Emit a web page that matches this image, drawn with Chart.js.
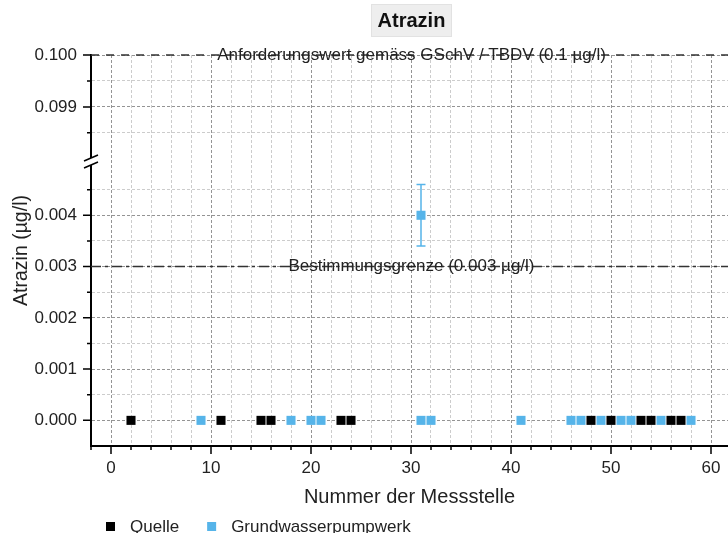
<!DOCTYPE html>
<html>
<head>
<meta charset="utf-8">
<title>Atrazin</title>
<script src="https://cdn.jsdelivr.net/npm/chart.js@4.4.0/dist/chart.umd.min.js"></script>
<style>
  html, body { margin: 0; padding: 0; background: #fff; }
  #wrap { width: 728px; height: 533px; position: relative; }
</style>
</head>
<body>
<div id="wrap"><canvas id="chart"></canvas></div>
<script>
// Messstellen (x) and measured Atrazin values (µg/l)
const quelleX = [2, 11, 15, 16, 23, 24, 48, 50, 53, 54, 56, 57];
const quelleY = [0, 0, 0, 0, 0, 0, 0, 0, 0, 0, 0, 0];

const gwX   = [9, 18, 20, 21, 31, 31, 32, 41, 46, 47, 49, 51, 52, 55, 58];
const gwY   = [0, 0, 0, 0, 0.004, 0, 0, 0, 0, 0, 0, 0, 0, 0, 0];
const gwErr = [0, 0, 0, 0, 0.0006, 0, 0, 0, 0, 0, 0, 0, 0, 0, 0];

const seriesLabels = ['Quelle', 'Grundwasserpumpwerk'];
const seriesColors = ['#000000', '#56B4E9'];

// horizontal limit lines
const limitValues = [0.1, 0.003];
const limitLabels = ['Anforderungswert gemäss GSchV / TBDV (0.1 µg/l)', 'Bestimmungsgrenze (0.003 µg/l)'];
const limitAxes   = ['yTop', 'y'];
const limitDash   = [[8, 7], [10, 4, 3, 4]];

// axis ranges (lower / upper part of the broken y axis)
const xRange    = [-2, 61.7];
const yLowRange = [-0.0005, 0.005];
const yTopRange = [0.0979, 0.1];

const FONT = "'Liberation Sans', Arial, Helvetica, sans-serif";
Chart.defaults.font.family = FONT;
Chart.defaults.color = '#222';

const MAJOR = 'rgba(0,0,0,0.42)';
const MINOR = 'rgba(0,0,0,0.2)';
const CLEAR = 'rgba(0,0,0,0)';

const isMajorY = v => Math.abs(v * 1000 - Math.round(v * 1000)) < 1e-6;
const isMajorX = v => Math.abs(v % 10) < 1e-9;

const hideLow = v => v < 0 || v > 0.0046;
const hideTop = v => v < 0.0982;

function yScale(range, hidden, weight, labelOk) {
  return {
    type: 'linear',
    position: 'left',
    stack: 'ybreak',
    stackWeight: weight,
    min: range[0],
    max: range[1],
    afterFit: s => { s.width = 91; },
    border: { display: true, color: '#000', width: 2, dash: [3, 2] },
    grid: {
      color: c => hidden(c.tick.value) ? CLEAR : (isMajorY(c.tick.value) ? MAJOR : MINOR),
      lineWidth: 1,
      drawTicks: true,
      tickLength: 8,
      tickColor: CLEAR,
    },
    ticks: {
      stepSize: 0.0005,
      includeBounds: false,
      autoSkip: false,
      padding: 6,
      color: '#222',
      font: { size: 17 },
      callback: v => (isMajorY(v) && !hidden(v) && labelOk(v)) ? v.toFixed(3) : '',
    },
  };
}

const decor = {
  id: 'decor',
  beforeDatasetsDraw(chart) {
    // error bars of the Grundwasserpumpwerk series
    const { ctx, scales } = chart;
    ctx.save();
    ctx.strokeStyle = seriesColors[1];
    ctx.lineWidth = 1.5;
    gwX.forEach((xv, i) => {
      if (!gwErr[i]) return;
      const px = scales.x.getPixelForValue(xv);
      const top = scales.y.getPixelForValue(gwY[i] + gwErr[i]);
      const bot = scales.y.getPixelForValue(gwY[i] - gwErr[i]);
      ctx.beginPath();
      ctx.moveTo(px, top); ctx.lineTo(px, bot);
      ctx.moveTo(px - 4.5, top); ctx.lineTo(px + 4.5, top);
      ctx.moveTo(px - 4.5, bot); ctx.lineTo(px + 4.5, bot);
      ctx.stroke();
    });
    ctx.restore();
  },
  afterDraw(chart) {
    const { ctx, chartArea: a, scales } = chart;
    ctx.save();

    // limit lines with their labels
    const midX = (a.left + a.right) / 2 + 2;
    limitValues.forEach((v, i) => {
      const py = scales[limitAxes[i]].getPixelForValue(v);
      ctx.strokeStyle = '#333';
      ctx.lineWidth = 1.5;
      ctx.setLineDash(limitDash[i]);
      ctx.beginPath();
      ctx.moveTo(a.left, py); ctx.lineTo(a.right, py);
      ctx.stroke();
      ctx.setLineDash([]);
      ctx.fillStyle = '#222';
      ctx.font = '17px ' + FONT;
      ctx.textAlign = 'center';
      ctx.textBaseline = 'middle';
      ctx.fillText(limitLabels[i], midX, py);
    });

    // tick marks: long for labelled values, short otherwise
    ctx.strokeStyle = '#000';
    ctx.lineWidth = 1.5;
    ctx.beginPath();
    scales.x.ticks.forEach(t => {
      const px = scales.x.getPixelForValue(t.value);
      const len = isMajorX(t.value) ? 8 : 4;
      ctx.moveTo(px, a.bottom); ctx.lineTo(px, a.bottom + len);
    });
    [['y', hideLow], ['yTop', hideTop]].forEach(([id, hidden]) => {
      scales[id].ticks.forEach(t => {
        if (hidden(t.value)) return;
        const py = scales[id].getPixelForValue(t.value);
        const len = isMajorY(t.value) ? 8 : 4;
        ctx.moveTo(a.left, py); ctx.lineTo(a.left - len, py);
      });
    });
    ctx.stroke();

    // axis break marks
    const by = scales.y.top - 2;
    ctx.fillStyle = '#fff';
    ctx.beginPath();
    ctx.moveTo(a.left - 7, by + 6);
    ctx.lineTo(a.left + 7, by);
    ctx.lineTo(a.left + 7, by - 7);
    ctx.lineTo(a.left - 7, by - 1);
    ctx.closePath();
    ctx.fill();
    ctx.lineWidth = 1.5;
    ctx.beginPath();
    ctx.moveTo(a.left - 7, by + 6); ctx.lineTo(a.left + 7, by);
    ctx.moveTo(a.left - 7, by - 1); ctx.lineTo(a.left + 7, by - 7);
    ctx.stroke();

    // y axis title
    ctx.fillStyle = '#222';
    ctx.font = '19.5px ' + FONT;
    ctx.textAlign = 'center';
    ctx.textBaseline = 'middle';
    ctx.translate(22, (a.top + a.bottom) / 2);
    ctx.rotate(-Math.PI / 2);
    ctx.fillText('Atrazin (µg/l)', 0, 0);
    ctx.setTransform(1, 0, 0, 1, 0, 0);

    // boxed chart title
    ctx.fillStyle = '#eeeeee';
    ctx.fillRect(371, 4, 81, 33);
    ctx.strokeStyle = '#e2e2e2';
    ctx.lineWidth = 1;
    ctx.strokeRect(371.5, 4.5, 80, 32);
    ctx.fillStyle = '#111';
    ctx.font = 'bold 20px ' + FONT;
    ctx.fillText('Atrazin', 411.5, 21);

    // legend
    let lx = 106;
    ctx.font = '17px ' + FONT;
    ctx.textAlign = 'left';
    chart.data.datasets.forEach(ds => {
      ctx.fillStyle = ds.backgroundColor;
      ctx.fillRect(lx, 522, 9, 9);
      ctx.fillStyle = '#222';
      ctx.fillText(ds.label, lx + 24, 527);
      lx += 24 + ctx.measureText(ds.label).width + 28;
    });

    ctx.restore();
  },
};

const toPoints = (xs, ys) => xs.map((x, i) => ({ x, y: ys[i] }));

new Chart(document.getElementById('chart'), {
  type: 'scatter',
  data: {
    datasets: [
      {
        label: seriesLabels[0],
        data: toPoints(quelleX, quelleY),
        yAxisID: 'y',
        backgroundColor: seriesColors[0],
        borderColor: seriesColors[0],
        borderWidth: 0,
        pointStyle: 'rect',
        pointRadius: 6.4,
        pointHoverRadius: 6.4,
      },
      {
        label: seriesLabels[1],
        data: toPoints(gwX, gwY),
        yAxisID: 'y',
        backgroundColor: seriesColors[1],
        borderColor: seriesColors[1],
        borderWidth: 0,
        pointStyle: 'rect',
        pointRadius: 6.4,
        pointHoverRadius: 6.4,
      },
    ],
  },
  options: {
    responsive: true,
    maintainAspectRatio: false,
    animation: false,
    events: [],
    layout: { autoPadding: false, padding: { top: 55, right: 0, bottom: 0, left: 0 } },
    plugins: {
      legend: { display: false },
      title: { display: false },
      tooltip: { enabled: false },
    },
    scales: {
      x: {
        type: 'linear',
        position: 'bottom',
        min: xRange[0],
        max: xRange[1],
        afterFit: s => { s.height = 87; s.paddingRight = 0; s.paddingLeft = 0; },
        border: { display: true, color: '#000', width: 2, dash: [3, 2] },
        grid: {
          color: c => c.tick.value <= xRange[0] ? CLEAR : (isMajorX(c.tick.value) ? MAJOR : MINOR),
          lineWidth: 1,
          drawTicks: true,
          tickLength: 8,
          tickColor: CLEAR,
        },
        ticks: {
          stepSize: 2,
          includeBounds: false,
          autoSkip: false,
          maxRotation: 0,
          padding: 4,
          color: '#222',
          font: { size: 17 },
          callback: v => isMajorX(v) ? String(v) : '',
        },
        title: {
          display: true,
          text: 'Nummer der Messstelle',
          color: '#222',
          font: { size: 20 },
          padding: { top: 0, bottom: 24 },
        },
      },
      y: yScale(yLowRange, hideLow, 282, v => v >= 0),
      yTop: yScale(yTopRange, hideTop, 109, v => v >= 0.0989),
    },
  },
  plugins: [decor],
});
</script>
</body>
</html>
